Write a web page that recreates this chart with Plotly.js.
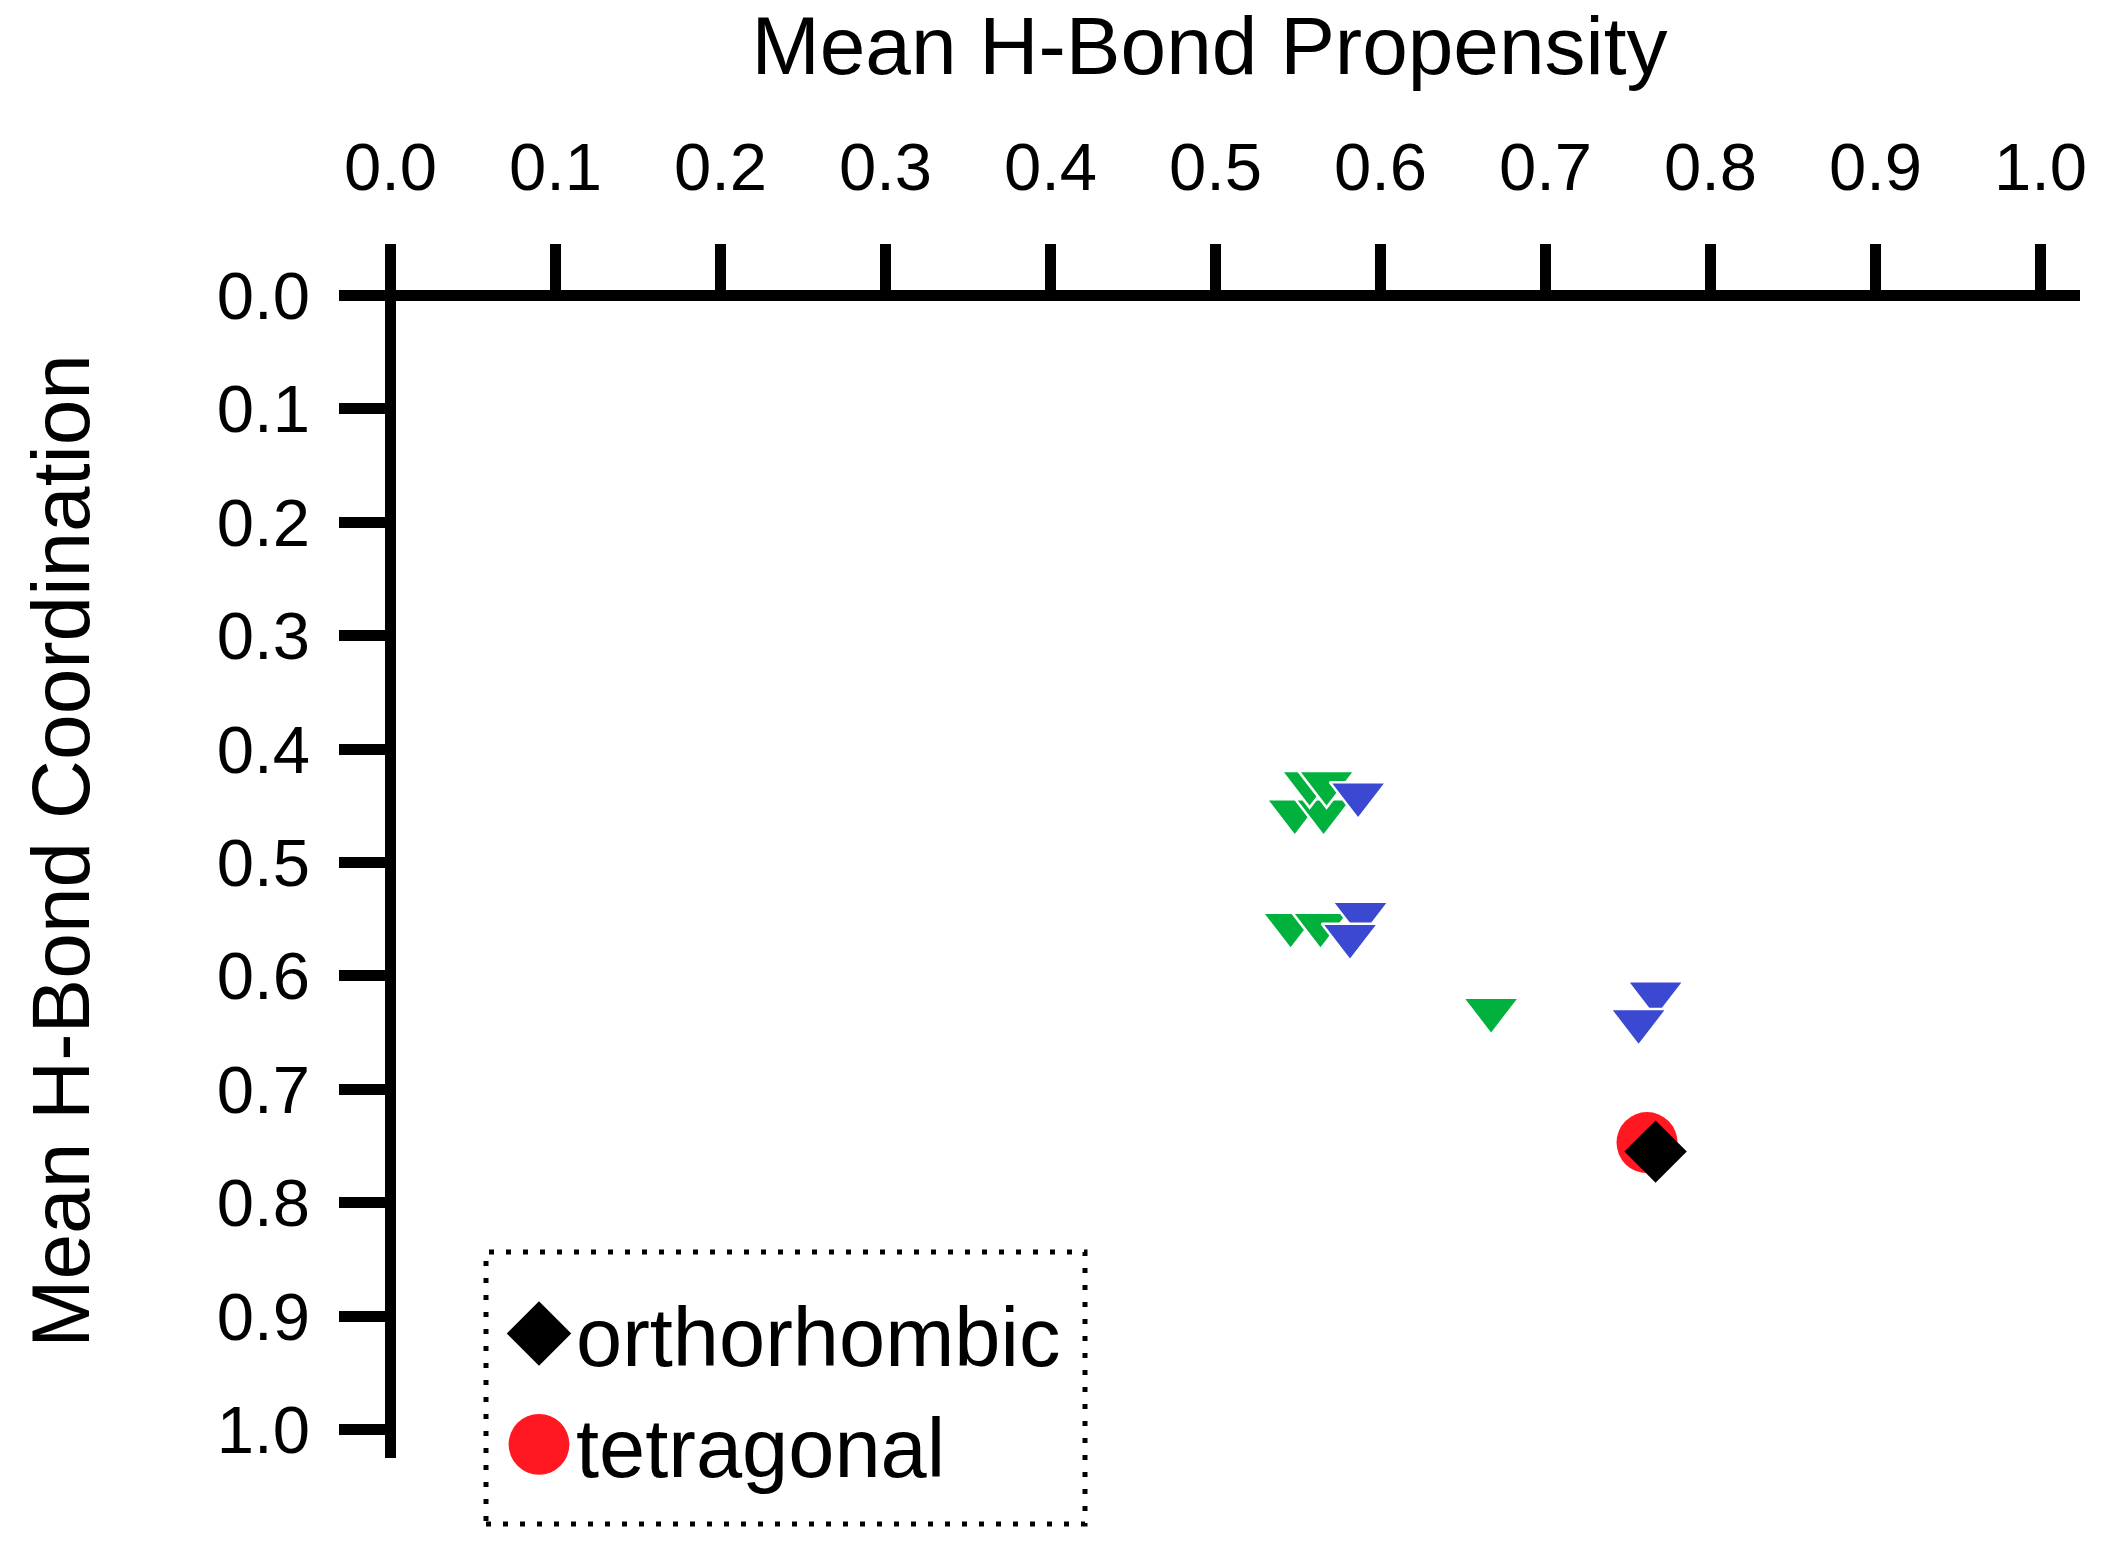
<!DOCTYPE html>
<html>
<head>
<meta charset="utf-8">
<script src="https://cdn.plot.ly/plotly-3.0.1.min.js"></script>
<style>
  html, body { margin: 0; padding: 0; background: #ffffff; }
  #chart { width: 2104px; height: 1547px; }
</style>
</head>
<body>
<div id="chart"></div>
<script>
// ---- data ----
const tickVals = [0, 0.1, 0.2, 0.3, 0.4, 0.5, 0.6, 0.7, 0.8, 0.9, 1.0];
const tickText = ["0.0", "0.1", "0.2", "0.3", "0.4", "0.5", "0.6", "0.7", "0.8", "0.9", "1.0"];

const greenX = [0.548, 0.5655, 0.557, 0.5673, 0.5455, 0.5636, 0.667];
const greenY = [0.455, 0.455, 0.430, 0.430, 0.555, 0.555, 0.630];

const blueX = [0.5864, 0.5879, 0.5815, 0.7667, 0.7564];
const blueY = [0.440, 0.5454, 0.5648, 0.6155, 0.640];

const orthoX = [0.7667];
const orthoY = [0.7549];

const tetraX = [0.7615];
const tetraY = [0.747];

const FONT = "Liberation Sans, Arial, sans-serif";

const traces = [
  {
    type: "scatter", mode: "markers", name: "green set",
    x: greenX, y: greenY, showlegend: false, hoverinfo: "x+y",
    marker: { symbol: "triangle-down", size: 49, color: "#00B13D",
              line: { color: "#ffffff", width: 2.5 } }
  },
  {
    type: "scatter", mode: "markers", name: "blue set",
    x: blueX, y: blueY, showlegend: false, hoverinfo: "x+y",
    marker: { symbol: "triangle-down", size: 49, color: "#3A48D2",
              line: { color: "#ffffff", width: 2.5 } }
  },
  {
    type: "scatter", mode: "markers", name: "tetragonal",
    x: tetraX, y: tetraY, legendrank: 2,
    marker: { symbol: "circle", size: 61, color: "#FF1721", line: { width: 0 } }
  },
  {
    type: "scatter", mode: "markers", name: "orthorhombic",
    x: orthoX, y: orthoY, legendrank: 1,
    marker: { symbol: "diamond", size: 48, color: "#000000", line: { width: 0 } }
  }
];

const plotL = 339, plotR = 2080, plotT = 244, plotB = 1458;
const W = 2104, H = 1547;
const pw = plotR - plotL, ph = plotB - plotT;
function px2x(p) { return (p - plotL) / pw; }
function py2y(p) { return (plotB - p) / ph; }

const layout = {
  width: W, height: H,
  paper_bgcolor: "#ffffff", plot_bgcolor: "#ffffff",
  margin: { l: plotL, r: W - plotR, t: plotT, b: H - plotB, pad: 0 },
  font: { family: FONT, color: "#000000" },
  showlegend: true,
  xaxis: {
    side: "top",
    range: [-0.0312, 1.0239], autorange: false,
    tickvals: tickVals, ticktext: tickText,
    ticks: "inside", ticklen: 51, tickwidth: 11, tickcolor: "#000000",
    tickfont: { family: FONT, size: 67, color: "#000000" },
    ticklabelstandoff: 40,
    showgrid: false, showline: false,
    zeroline: true, zerolinecolor: "#000000", zerolinewidth: 11,
    automargin: false,
    title: { text: "Mean H-Bond Propensity", font: { family: FONT, size: 82, color: "#000000" }, standoff: 28 }
  },
  yaxis: {
    range: [1.0251, -0.0454], autorange: false,
    tickvals: tickVals, ticktext: tickText,
    ticks: "inside", ticklen: 51, tickwidth: 11, tickcolor: "#000000",
    tickfont: { family: FONT, size: 67, color: "#000000" },
    ticklabelstandoff: 28,
    showgrid: false, showline: false,
    zeroline: true, zerolinecolor: "#000000", zerolinewidth: 11,
    automargin: false,
    title: { text: "Mean H-Bond Coordination", font: { family: FONT, size: 82, color: "#000000" }, standoff: 100 }
  },
  legend: {
    x: px2x(502), xanchor: "left",
    y: py2y(1273), yanchor: "top",
    bgcolor: "rgba(0,0,0,0)", borderwidth: 0,
    font: { family: FONT, size: 83, color: "#000000" },
    itemwidth: 64,
    tracegroupgap: 0
  },
  shapes: [
    {
      type: "rect", xref: "paper", yref: "paper",
      x0: px2x(486), x1: px2x(1085), y0: py2y(1524), y1: py2y(1252),
      line: { color: "#000000", width: 5, dash: "5px,12px" },
      fillcolor: "rgba(0,0,0,0)", layer: "above"
    }
  ]
};

Plotly.newPlot("chart", traces, layout, { staticPlot: true, displayModeBar: false }).then(function (gd) {
  // enlarge legend symbols to match the reference (legend caps marker size)
  const scales = { "orthorhombic": 3.1, "tetragonal": 3.8 };
  gd.querySelectorAll(".legend .traces").forEach(function (tr) {
    const txt = tr.querySelector("text.legendtext");
    const name = txt ? txt.textContent : "";
    const k = scales[name] || 1;
    tr.querySelectorAll("path.scatterpts").forEach(function (p) {
      const t = p.getAttribute("transform") || "";
      p.setAttribute("transform", t + " scale(" + k + ")");
    });
  });
});
</script>
</body>
</html>
